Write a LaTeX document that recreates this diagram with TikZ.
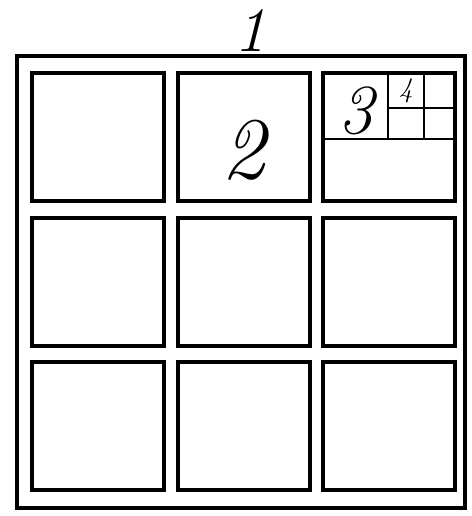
\documentclass[tikz,border=0pt]{standalone}
\usepackage{tikz}
\usetikzlibrary{positioning}

\begin{document}
\begin{tikzpicture}[
    x=0.02cm, y=-0.02cm,
    frame/.style={draw=black, line width=2.6pt},
    cell/.style={draw=black, line width=1.8pt},
    subcell/.style={draw=black, line width=1.3pt},
    numlabel/.style={font=\itshape\fontsize{#1}{#1}\selectfont, inner sep=0pt},
  ]
  \useasboundingbox (0,0) rectangle (471,516);

  % outer frame
  \draw[frame] (17,56) rectangle (465,508);

  % 3x3 grid of cells
  \foreach \cx/\col in {32/a, 178/b, 323/c}
    \foreach \cy/\row in {73/1, 218/2, 362/3}
      \draw[cell] (\cx,\cy) rectangle ++(132,128);

  % splitting of the top right cell
  \draw[subcell] (323,139) -- (455,139);
  \draw[subcell] (388,73) -- (388,139);
  \draw[subcell] (388,108) -- (455,108);
  \draw[subcell] (424,73) -- (424,139);

  \node[numlabel=36] (one) at (250,30) {1};
  \node[numlabel=50] (two) at (243,150) {2};
  \node[numlabel=40] (three) at (356,111) {3};
  \node[numlabel=16] (four) at (406,91) {4};
\end{tikzpicture}
\end{document}
